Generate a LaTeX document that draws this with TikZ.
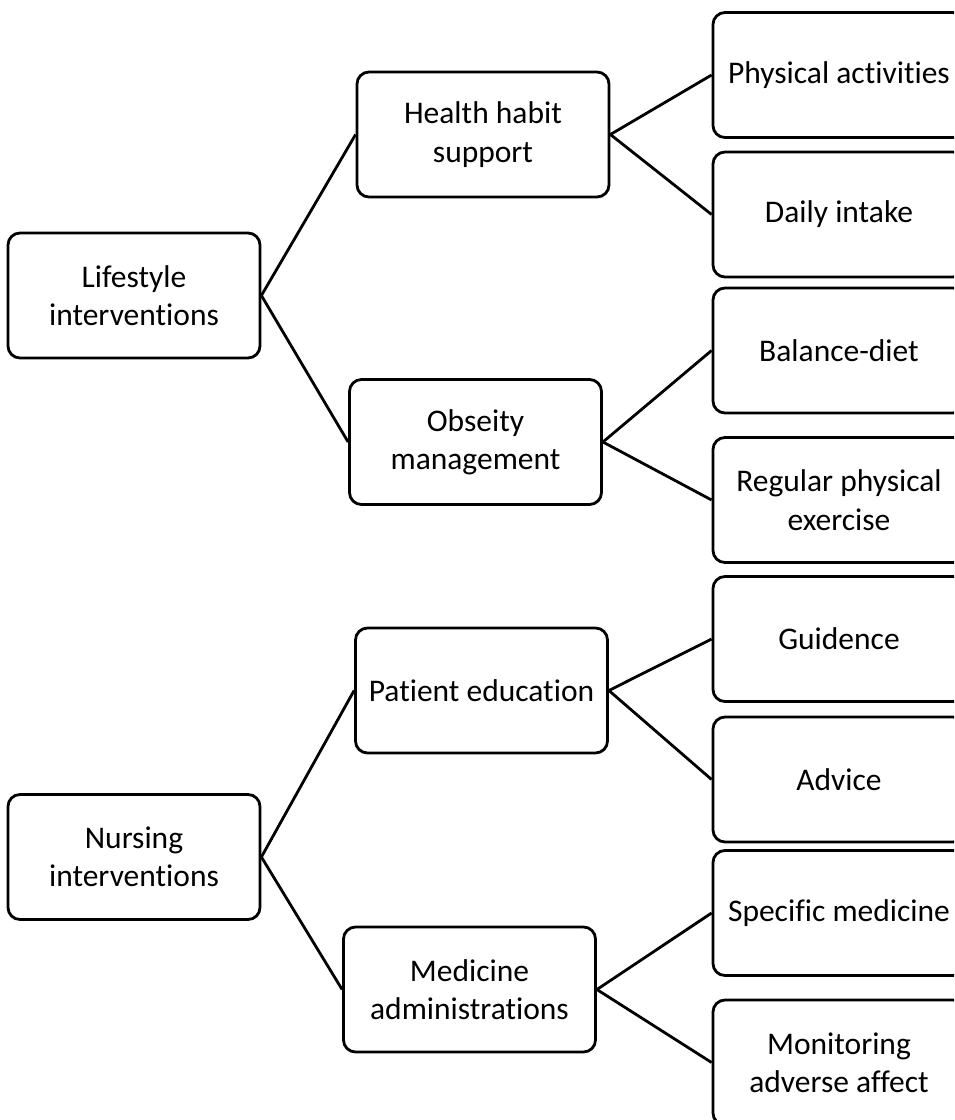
\documentclass[tikz,border=0pt]{standalone}
\usepackage{fontspec}
\setmainfont{Carlito}[Ligatures={NoCommon,NoContextual}]
\begin{document}
\begin{tikzpicture}[x=1pt,y=-1pt,
  box/.style={draw=black, line width=2.8pt, rounded corners=12pt, fill=white,
    minimum width=252pt, minimum height=125pt, inner sep=0pt, align=center,
    font=\fontsize{31.5}{38.4}\selectfont},
  link/.style={draw=black, line width=2.8pt}]
\useasboundingbox (0,0) rectangle (954,1120);
\clip (0,0) rectangle (954,1120);
% level 1
\node[box] (L1) at (134,295.5) {Lifestyle\\interventions};
\node[box] (L2) at (134,857) {Nursing\\interventions};
% level 2
\node[box] (H) at (483,134.5) {Health habit\\support};
\node[box] (O) at (475.5,442) {Obseity\\management};
\node[box] (P) at (481.5,690.5) {Patient education};
\node[box] (M) at (469.5,989.5) {Medicine\\administrations};
% level 3
\node[box] (PA) at (839,75) {Physical activities};
\node[box] (DI) at (839,214.5) {Daily intake};
\node[box] (BD) at (839,350.5) {Balance-diet};
\node[box] (RE) at (839,500) {Regular physical\\exercise};
\node[box] (GU) at (839,639) {Guidence};
\node[box] (AD) at (839,779.5) {Advice};
\node[box] (SM) at (839,913) {Specific medicine};
\node[box] (MA) at (839,1062.5) {Monitoring\\adverse affect};
% connectors
\draw[link] (L1.east) -- (H.west);
\draw[link] (L1.east) -- (O.west);
\draw[link] (L2.east) -- (P.west);
\draw[link] (L2.east) -- (M.west);
\draw[link] (H.east) -- (PA.west);
\draw[link] (H.east) -- (DI.west);
\draw[link] (O.east) -- (BD.west);
\draw[link] (O.east) -- (RE.west);
\draw[link] (P.east) -- (GU.west);
\draw[link] (P.east) -- (AD.west);
\draw[link] (M.east) -- (SM.west);
\draw[link] (M.east) -- (MA.west);
\end{tikzpicture}
\end{document}
